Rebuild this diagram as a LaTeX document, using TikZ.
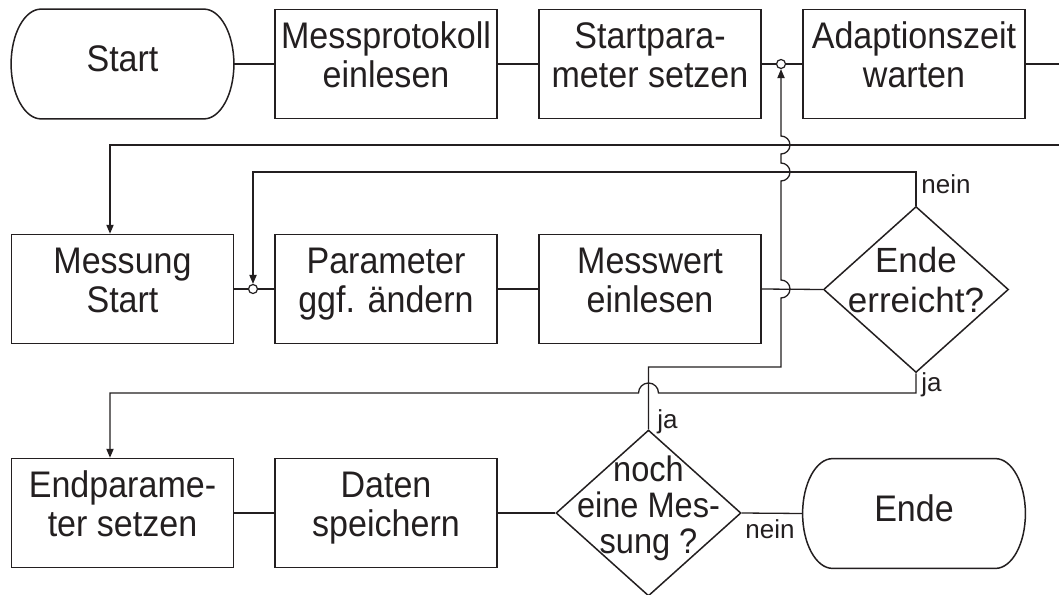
\documentclass[tikz,border=0pt]{standalone}
\usepackage{fontspec}
\setmainfont{Liberation Sans}
\newfontfamily\narrowf[FakeStretch=0.92]{Liberation Sans}
\usetikzlibrary{shapes.geometric,arrows.meta,calc}
\newcommand\hst{\rule{0pt}{13.5pt}}
\newcommand\dst{\rule[-9.25pt]{0pt}{9.25pt}}
\definecolor{ink}{HTML}{231F20}
\begin{document}
\begin{tikzpicture}[x=0.5pt,y=-0.5pt,
  ln/.style={draw=ink, line width=0.65pt},
  outl/.style={draw=ink, line width=0.75pt},
  box/.style={outl, minimum width=111pt, minimum height=54.5pt, inner sep=0pt, align=center,
    font=\narrowf\fontsize{18.5pt}{19.5pt}\selectfont, text=ink},
  term/.style={minimum width=111pt, minimum height=54.5pt, inner sep=0pt,
    font=\narrowf\fontsize{18.5pt}{19.5pt}\selectfont, text=ink},
  dia/.style={diamond, outl, minimum width=92.5pt, minimum height=83pt, inner sep=0pt},
  dtxt/.style={align=center, font=\narrowf\fontsize{17.7pt}{18pt}\selectfont, text=ink, inner sep=0pt},
  lab/.style={font=\fontsize{13pt}{15pt}\selectfont, text=ink, inner sep=0pt},
  jn/.style={circle, draw=ink, fill=white, line width=0.6pt, minimum size=4.5pt, inner sep=0pt},
  arr/.style={ln, -{Triangle[length=4.5pt,width=3.6pt]}},
]
\clip (0,0) rectangle (1059,594);
\fill[white] (0,0) rectangle (1059,594);

% rails
\coordinate (ka) at (110,145);
\coordinate (kb) at (253,172);
\coordinate (kc) at (781,367);
\coordinate (kd) at (110,393);

% row 1
\node[term] (st) at (122.5,64) {\strut Start};
\node[box] (mp) at (386,64) {\hst Messprotokoll\\einlesen\dst};
\node[box] (sp) at (650,64) {\hst Startpara-\\meter setzen\dst};
\node[box] (ad) at (914,64) {\hst Adaptionszeit\\warten\dst};
\node[jn] (j1) at (781,64) {};

% row 2
\node[box] (ms) at (122.5,289) {\hst Messung\\Start\dst};
\node[box] (pa) at (386,289) {\hst Parameter\\ggf. ändern\dst};
\node[box] (mw) at (650,289) {\hst Messwert\\einlesen\dst};
\node[dia] (d1) at (916,289.5) {};
\node[dtxt, font=\fontsize{17.5pt}{20pt}\selectfont] (d1t) at (916,280) {Ende\\erreicht?};
\node[jn] (j2) at (253,289) {};

% row 3
\node[box] (ep) at (122.5,513) {\hst Endparame-\\ter setzen\dst};
\node[box] (ds) at (386,513) {\hst Daten\\speichern\dst};
\node[dia] (d2) at (648.5,513) {};
\node[dtxt] (d2t) at (648.5,508) {noch\\eine Mes-\\sung ?};
\node[term] (en) at (914,513.5) {\strut Ende};

% terminal outlines (elliptic ends)
\foreach \t in {st,en}{
\draw[outl] ($(\t.north west)+(30,0)$) -- ($(\t.north east)+(-30,0)$)
  .. controls ($(\t.north east)+(-13.43,0)$) and ($(\t.east)+(0,-30.1)$) .. (\t.east)
  .. controls ($(\t.east)+(0,30.1)$) and ($(\t.south east)+(-13.43,0)$) .. ($(\t.south east)+(-30,0)$)
  -- ($(\t.south west)+(30,0)$)
  .. controls ($(\t.south west)+(13.43,0)$) and ($(\t.west)+(0,30.1)$) .. (\t.west)
  .. controls ($(\t.west)+(0,-30.1)$) and ($(\t.north west)+(13.43,0)$) .. cycle;
}

% straight connectors
\draw[ln] (st.east) -- (mp.west);
\draw[ln] (mp.east) -- (sp.west);
\draw[ln] (sp.east) -- (j1.west);
\draw[ln] (j1.east) -- (ad.west);
\draw[ln] (ms.east) -- (j2.west);
\draw[ln] (j2.east) -- (pa.west);
\draw[ln] (pa.east) -- (mw.west);
\draw[ln] (mw.east) -- (d1.west);
\draw[ln] (ep.east) -- (ds.west);
\draw[ln] (ds.east) -- (d2.west);
\draw[ln] (d2.east) -- (en.west);

% loop from Adaptionszeit to Messung Start
\draw[arr] (ad.east) -- ++(50,0) |- (ka) -- (ka |- ms.north);

% nein from Ende erreicht
\draw[arr] (d1.north) |- (kb) -- (j2.north);
\node[lab, anchor=base west] (n1) at (921,193) {nein};

% ja from Ende erreicht
\draw[arr] (d1.south) |- ($(d2.north |- kd)+(10,0)$)
  arc[start angle=0,end angle=-180,radius=10] -- (kd) -- (kd |- ep.north);
\node[lab, anchor=base west] (y1) at (921,391) {ja};

% ja from noch eine Messung
\draw[arr] (d2.north) |- (kc)
  -- ($(kc |- mw.east)+(0,9)$) arc[start angle=90,end angle=-90,radius=9]
  -- ($(kc |- kb)+(0,9)$) arc[start angle=90,end angle=-90,radius=9]
  -- ($(kc |- ka)+(0,9)$) arc[start angle=90,end angle=-90,radius=9]
  -- (j1.south);
\node[lab, anchor=base west] (y2) at (657,428) {ja};

% nein from noch eine Messung
\node[lab, anchor=base west] (n2) at (745,538) {nein};
\end{tikzpicture}
\end{document}
